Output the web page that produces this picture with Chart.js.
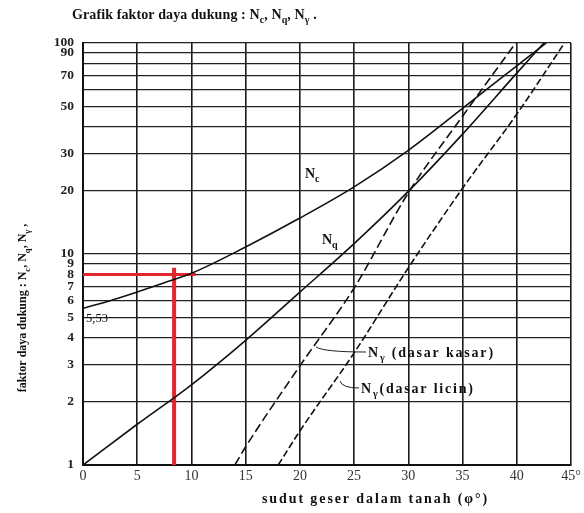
<!DOCTYPE html>
<html>
<head>
<meta charset="utf-8">
<script src="https://cdn.jsdelivr.net/npm/chart.js@4"></script>
<style>
  body { margin: 0; background: #fff; }
  canvas { display: block; }
</style>
</head>
<body>
<canvas id="chart" width="584" height="513"></canvas>
<script>
// values (phi in degrees, factor on log scale)
const ncPhi = [0, 2.5, 5, 7.5, 10, 15, 20, 25, 30, 35, 40, 42.7];
const ncVal = [5.53, 6.0, 6.6, 7.3, 8.1, 10.8, 14.8, 20.8, 31, 49, 78, 100];

const nqPhi = [0, 5, 10, 15, 20, 25, 30, 35, 40, 42.5];
const nqVal = [1, 1.56, 2.4, 3.9, 6.6, 11.2, 19.8, 37, 72, 100];

const kasarPhi = [14, 15, 20, 25, 30, 35, 39.9];
const kasarVal = [1, 1.22, 2.95, 6.9, 19.5, 45, 100];

const licinPhi = [18, 20, 25, 30, 35, 40, 44.4];
const licinVal = [1, 1.45, 3.4, 8.6, 20.5, 46, 100];

// red reading lines
const redVPhi = [8.4, 8.4];
const redVVal = [1, 8.6];
const redHPhi = [0, 10.4];
const redHVal = [8, 8];

const yGrid = [1, 2, 3, 4, 5, 6, 7, 8, 9, 10, 20, 30, 40, 50, 60, 70, 80, 90, 100];
const yLabels = [1, 2, 3, 4, 5, 6, 7, 8, 9, 10, 20, 30, 50, 70, 90, 100];

function pts(xs, ys) {
    return xs.map((x, i) => ({ x: x, y: ys[i] }));
}

const serif = '"Liberation Serif", "DejaVu Serif", serif';

// text with subscripts: parts = [[text, isSub], ...]
function richWidth(ctx, parts, size, weight) {
    let w = 0;
    parts.forEach(p => {
        ctx.font = weight + ' ' + (p[1] ? size * 0.72 : size) + 'px ' + serif;
        w += ctx.measureText(p[0]).width;
    });
    return w;
}

function drawRich(ctx, x, y, parts, size, weight) {
    ctx.textAlign = 'left';
    ctx.textBaseline = 'alphabetic';
    parts.forEach(p => {
        let s = p[1] ? size * 0.72 : size;
        ctx.font = weight + ' ' + s + 'px ' + serif;
        ctx.fillText(p[0], x, p[1] ? y + size * 0.3 : y);
        x += ctx.measureText(p[0]).width;
    });
}

const labels = {
    id: 'labels',
    afterDraw(chart) {
        let ctx = chart.ctx;
        ctx.save();
        ctx.fillStyle = '#111';

        ctx.letterSpacing = '0.1px';
        drawRich(ctx, 72, 19, [['Grafik faktor daya dukung : N', 0], ['c', 1], [', N', 0], ['q', 1], [', N', 0], ['γ', 1], [' .', 0]], 14, 'bold');

        ctx.letterSpacing = '0px';
        drawRich(ctx, 305, 178, [['N', 0], ['c', 1]], 14, 'bold');
        drawRich(ctx, 322, 244, [['N', 0], ['q', 1]], 14, 'bold');

        ctx.letterSpacing = '1.8px';
        drawRich(ctx, 368, 357, [['N', 0], ['γ', 1], [' (dasar kasar)', 0]], 14, 'bold');
        drawRich(ctx, 361, 393, [['N', 0], ['γ', 1], ['(dasar licin)', 0]], 14, 'bold');

        ctx.letterSpacing = '0px';
        ctx.font = '12.5px ' + serif;
        ctx.fillText('5,53', 86, 322);

        // leaders
        ctx.strokeStyle = '#222';
        ctx.lineWidth = 1;
        ctx.beginPath();
        ctx.moveTo(316, 347);
        ctx.quadraticCurveTo(324, 352, 366, 352);
        ctx.moveTo(340, 381);
        ctx.quadraticCurveTo(342, 388, 359, 388);
        ctx.stroke();

        // x axis title
        ctx.letterSpacing = '1.9px';
        ctx.font = 'bold 14px ' + serif;
        ctx.fillText('sudut geser dalam tanah (φ°)', 262, 503);

        // y axis title
        ctx.letterSpacing = '0px';
        let yParts = [['faktor daya dukung : N', 0], ['c', 1], [', N', 0], ['q', 1], [', N', 0], ['γ', 1], [' ,', 0]];
        let w = richWidth(ctx, yParts, 12, 'bold');
        ctx.translate(26, 308);
        ctx.rotate(-Math.PI / 2);
        drawRich(ctx, -w / 2, 0, yParts, 12, 'bold');
        ctx.restore();
    }
};

let ctx = document.getElementById('chart').getContext('2d');

let chart = new Chart(ctx, {
    type: 'line',
    data: {
        datasets: [
            { label: 'Nc', data: pts(ncPhi, ncVal), borderColor: '#111', borderWidth: 1.6, cubicInterpolationMode: 'monotone' },
            { label: 'Nq', data: pts(nqPhi, nqVal), borderColor: '#111', borderWidth: 1.6, cubicInterpolationMode: 'monotone' },
            { label: 'Ny kasar', data: pts(kasarPhi, kasarVal), borderColor: '#111', borderWidth: 1.6, borderDash: [9, 4], cubicInterpolationMode: 'monotone' },
            { label: 'Ny licin', data: pts(licinPhi, licinVal), borderColor: '#111', borderWidth: 1.6, borderDash: [7, 3], cubicInterpolationMode: 'monotone' },
            { label: 'red v', data: pts(redVPhi, redVVal), borderColor: '#e3262d', borderWidth: 4 },
            { label: 'red h', data: pts(redHPhi, redHVal), borderColor: '#e3262d', borderWidth: 3 }
        ]
    },
    options: {
        responsive: false,
        animation: false,
        layout: { padding: { top: 43, right: 13, left: 0, bottom: 0 } },
        elements: { point: { radius: 0 } },
        plugins: {
            legend: { display: false },
            tooltip: { enabled: false }
        },
        scales: {
            x: {
                type: 'linear',
                min: 0,
                max: 45,
                afterFit: (s) => { s.height = 48; },
                ticks: {
                    stepSize: 5,
                    padding: 3,
                    color: '#333',
                    font: { family: serif, size: 14 },
                    callback: (v) => v === 45 ? '45°' : v
                },
                grid: { color: '#1a1a1a', lineWidth: 1.6, drawTicks: false },
                border: { color: '#111', width: 2 }
            },
            y: {
                type: 'logarithmic',
                min: 1,
                max: 100,
                afterFit: (s) => { s.width = 83; },
                afterBuildTicks: (s) => { s.ticks = yGrid.map(v => ({ value: v })); },
                ticks: {
                    padding: 9,
                    color: '#222',
                    autoSkip: false,
                    font: { family: serif, size: 13.5, weight: 'bold' },
                    callback: (v) => yLabels.includes(v) ? String(v) : ''
                },
                grid: { color: '#222', lineWidth: 1.3, drawTicks: false },
                border: { color: '#111', width: 2 }
            }
        }
    },
    plugins: [labels]
});
</script>
</body>
</html>
